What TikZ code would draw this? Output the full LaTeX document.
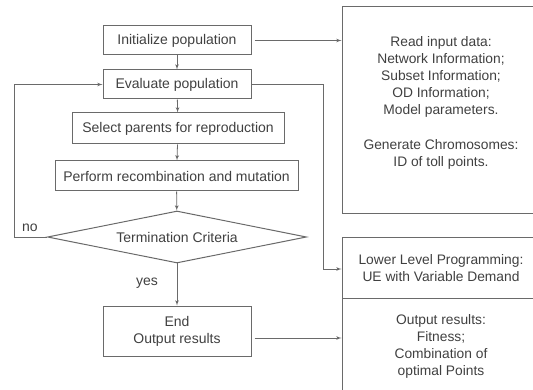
\documentclass[tikz,border=0pt]{standalone}
\usepackage{fontspec}
\setmainfont{Liberation Sans}
\usepackage{tikz}
\usetikzlibrary{shapes,arrows}
\definecolor{boxgray}{HTML}{6A6A6A}
\definecolor{txtgray}{HTML}{404040}
\tikzstyle{block} = [rectangle, draw=boxgray, line width=1pt, text=txtgray,
    align=center, inner sep=0pt, font=\fontsize{14}{17}\selectfont]
\tikzstyle{decision} = [diamond, aspect=5, draw=boxgray, line width=1pt, text=txtgray,
    inner sep=0pt, font=\fontsize{14}{17}\selectfont]
\tikzstyle{infobox} = [rectangle, draw=boxgray, line width=1pt, text=txtgray,
    align=center, inner sep=0pt, font=\fontsize{13.8}{17}\selectfont]
\tikzstyle{infotext} = [text=txtgray, align=center, inner sep=0pt,
    font=\fontsize{13.8}{17}\selectfont]
\tikzstyle{line} = [draw=boxgray, line width=0.8pt, -latex']
\tikzstyle{tag} = [text=txtgray, font=\fontsize{14}{17}\selectfont]

\begin{document}
\begin{tikzpicture}[x=1pt, y=-1pt]
    \useasboundingbox (0,0) rectangle (533,390);
    % Place nodes
    \node [block, minimum width=148pt, minimum height=29pt] (init) at (177,40.5) {Initialize population};
    \node [block, minimum width=148pt, minimum height=29pt] (eval) at (177,84.5) {Evaluate population};
    \node [block, minimum width=212pt, minimum height=31pt] (select) at (178,128.5) {Select parents for reproduction};
    \node [block, minimum width=243pt, minimum height=30pt] (perform) at (176.5,176) {Perform recombination and mutation};
    \node [decision, minimum width=259pt, minimum height=52pt] (term) at (177,237) {Termination Criteria};
    \node [block, minimum width=148pt, minimum height=50pt] (end) at (177,331) {End\\Output results};
    \node [infobox, minimum width=198pt, minimum height=207pt] (readbox) at (441,110.5) {};
    \node [infotext, anchor=north] (readtext) at (441,36.5)
        {Read input data:\\Network Information;\\Subset Information;\\OD Information;\\Model parameters.\\[18pt]
         Generate Chromosomes:\\ID of toll points.};
    \node [infobox, minimum width=198pt, minimum height=60pt] (lowbox) at (441,268)
        {Lower Level Programming:\\UE with Variable Demand};
    \node [infobox, minimum width=198pt, minimum height=96pt] (outbox) at (441,346)
        {Output results:\\Fitness;\\Combination of\\optimal Points};
    \coordinate (noturn) at (14,237);
    \coordinate (evalturn) at (323,84.5);
    % Draw edges
    \path [line] (init) -- (eval);
    \path [line] (eval) -- (select);
    \path [line] (select) -- (perform);
    \path [line] (perform) -- (term);
    \path [line] (term) -- (end);
    \node [tag] (yeslabel) at (147,283) {yes};
    \path [line] (term.west) -- (noturn) |- (eval.west);
    \node [tag] (nolabel) at (30,228) {no};
    \path [line] ([xshift=3pt]init.east) -- (init.east -| readbox.west);
    \path [line] (eval.east) -- (evalturn) |- ([yshift=-1pt]lowbox.west);
    \path [line] ([xshift=3pt,yshift=-7pt]end.east) -- ([yshift=-7pt]end.east -| outbox.west);
\end{tikzpicture}
\end{document}
